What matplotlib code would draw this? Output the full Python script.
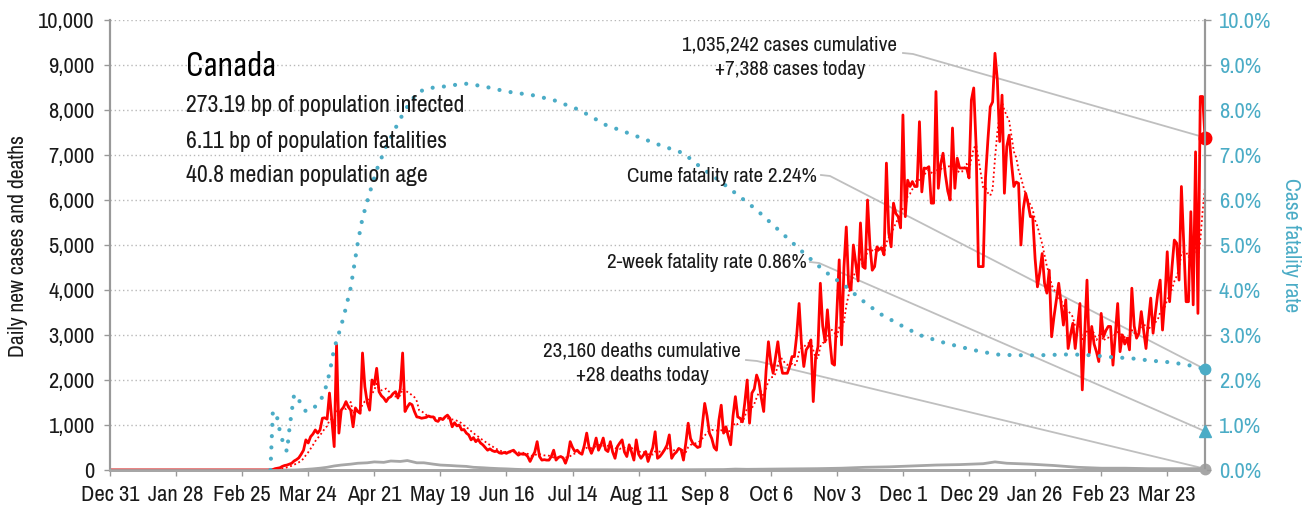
import matplotlib
matplotlib.use('Agg')
import matplotlib.pyplot as plt
import matplotlib.dates as mdates
import numpy as np
import pandas as pd
from matplotlib import font_manager as fm
from matplotlib.lines import Line2D

# ---------------- data ----------------
start = pd.Timestamp('2019-12-31')

daily_cases = [0] * 60 + [
    0, 0, 0, 0, 0, 0, 0, 0, 5, 10,
    30, 40, 50, 80, 100, 110, 130, 150, 200, 230,
    270, 350, 440, 670, 600, 740, 800, 890, 820, 890,
    1150, 1160, 1130, 1710, 1110, 520, 2780, 820, 1330, 1400,
    1520, 1400, 1330, 960, 1380, 1300, 1260, 2600, 1850, 1500,
    1330, 2000, 1900, 2260, 1740, 1650, 1600, 1520, 1600, 1630,
    1700, 1740, 1600, 1800, 2600, 1300, 1400, 1480, 1450, 1300,
    1180, 1170, 1150, 1160, 1170, 1200, 1180, 1180, 1100, 1080,
    1150, 1120, 1180, 1220, 1150, 960, 1050, 980, 1000, 890,
    900, 820, 780, 670, 720, 630, 680, 600, 560, 500,
    440, 470, 430, 410, 420, 380, 370, 390, 370, 400,
    420, 440, 380, 330, 360, 350, 350, 300, 190, 300,
    400, 630, 300, 220, 230, 220, 220, 300, 440, 220,
    280, 300, 270, 150, 300, 630, 500, 410, 440, 380,
    350, 550, 820, 500, 370, 500, 710, 440, 550, 710,
    450, 410, 630, 400, 260, 520, 600, 670, 400, 300,
    560, 400, 220, 670, 350, 260, 330, 410, 190, 350,
    500, 850, 260, 300, 370, 450, 550, 780, 260, 350,
    400, 480, 450, 220, 600, 1040, 700, 590, 550, 500,
    520, 1000, 1480, 1200, 820, 700, 500, 440, 1100, 1440,
    820, 960, 750, 560, 1200, 1630, 1180, 1150, 1070, 1500,
    2000, 1040, 1710, 1800, 2110, 1960, 1600, 1300, 2200, 2850,
    2400, 2150, 2500, 2850, 2400, 2150, 2150, 2150, 2300, 2520,
    2520, 3000, 3700, 2800, 2300, 2670, 2750, 2890, 1520, 2500,
    2740, 4150, 3200, 2850, 3560, 2900, 2370, 2330, 3500, 4670,
    2780, 4500, 5400, 4100, 4000, 5000, 4600, 4200, 5490, 4520,
    4480, 6000, 5000, 4440, 4520, 4960, 4900, 4930, 4780, 6820,
    5270, 4960, 5930, 5700, 5630, 5380, 7890, 5630, 6440, 6300,
    6410, 6300, 6300, 7740, 6180, 6710, 6700, 6740, 5930, 5930,
    8410, 6260, 6800, 7040, 6560, 6200, 6000, 7600, 6260, 6930,
    6710, 6710, 6710, 6710, 6490, 8220, 8490, 7220, 4520, 4520,
    4520, 6500, 7330, 8070, 8180, 9260, 8670, 7300, 8330, 6150,
    7190, 7440, 6820, 6300, 6400, 6370, 5000, 5800, 6150, 5930,
    5630, 5630, 4700, 4070, 4400, 4810, 4150, 3930, 4440, 2960,
    3400, 3780, 4150, 3700, 3220, 3780, 2700, 3000, 3260, 2700,
    3200, 3700, 1780, 3000, 4220, 2600, 3190, 2800, 2630, 2410,
    3480, 2960, 3100, 3190, 3190, 2330, 3000, 3700, 2630, 3000,
    2800, 2930, 2670, 4040, 3200, 2930, 3040, 3520, 3100, 2700,
    3300, 3820, 3040, 3500, 3930, 4220, 3110, 3800, 4850, 3740,
    4500, 5110, 5040, 4220, 6300, 5000, 3740, 3740, 5740, 3670,
    7070, 3480, 8300, 8300, 7388,
]

# cumulative case fatality rate (%), read at these day offsets from Dec 31 2019
cfr_days = [68, 69, 70, 71, 72, 73, 74, 75, 76, 77, 78, 79, 80, 81, 83, 85, 87, 89,
            91, 93, 95, 97, 99, 102, 105, 107, 110, 113, 117, 121, 125, 130, 134,
            143, 150, 158, 168, 179, 188, 199, 210, 222, 233, 243, 250, 258, 267,
            274, 284, 294, 303, 312, 318, 326, 335, 343, 352, 360, 369, 377, 386,
            394, 407, 416, 424, 433, 441, 450, 458, 464]
cfr_pct = [0.0, 1.30, 1.15, 1.15, 0.85, 0.67, 0.52, 0.41, 0.90, 1.30, 1.67, 1.55,
           1.55, 1.48, 1.30, 1.37, 1.41, 1.52, 1.75, 2.15, 2.70, 3.04, 3.40, 4.05,
           5.05, 5.60, 6.15, 6.67, 7.19, 7.60, 8.00, 8.37, 8.48, 8.53, 8.59, 8.53,
           8.41, 8.33, 8.22, 8.00, 7.67, 7.44, 7.22, 7.04, 6.74, 6.44, 6.07, 5.78,
           5.30, 4.82, 4.41, 4.07, 3.80, 3.48, 3.22, 3.00, 2.85, 2.74, 2.63, 2.56,
           2.55, 2.55, 2.57, 2.55, 2.51, 2.48, 2.43, 2.39, 2.32, 2.24]

# daily deaths, read at these day offsets
death_days = [0, 78, 82, 86, 89, 92, 95, 98, 102, 105, 109, 112, 116, 119, 123,
              126, 130, 133, 137, 140, 144, 147, 151, 154, 158, 161, 165, 168, 172,
              175, 180, 190, 200, 210, 220, 230, 240, 250, 260, 265, 270, 280, 290,
              300, 310, 320, 330, 340, 350, 360, 370, 375, 380, 390, 400, 410, 420,
              430, 440, 450, 460, 464]
daily_deaths = [0, 0, 10, 25, 40, 60, 90, 110, 130, 150, 160, 180, 170, 200, 190,
                210, 160, 160, 130, 110, 100, 90, 80, 60, 50, 40, 30, 25, 15, 10, 8,
                5, 5, 5, 3, 5, 5, 8, 10, 20, 15, 20, 25, 30, 40, 60, 70, 90, 110,
                120, 140, 180, 150, 130, 100, 60, 40, 40, 30, 30, 30, 28]

tick_labels = ['Dec 31', 'Jan 28', 'Feb 25', 'Mar 24', 'Apr 21', 'May 19', 'Jun 16',
               'Jul 14', 'Aug 11', 'Sep 8', 'Oct 6', 'Nov 3', 'Dec 1', 'Dec 29',
               'Jan 26', 'Feb 23', 'Mar 23']

title = 'Canada'
stats = ['273.19 bp of population infected',
         '6.11 bp of population fatalities',
         '40.8 median population age']
cases_note = '1,035,242 cases cumulative\n+7,388 cases today'
deaths_note = '23,160 deaths cumulative\n+28 deaths today'
cfr_note = 'Cume fatality rate 2.24%'
twoweek_note = '2-week fatality rate 0.86%'
last_cfr = 2.24
last_2wk = 0.86
last_deaths = 28

# ---------------- fonts ----------------
names = {f.name for f in fm.fontManager.ttflist}
FONT = 'Archivo Narrow' if 'Archivo Narrow' in names else 'DejaVu Sans'
TITLE_FONT = 'Sofia Sans Condensed' if 'Sofia Sans Condensed' in names else FONT
plt.rcParams['font.family'] = [FONT, 'DejaVu Sans']

RED = '#ff0000'
TEAL = '#4bacc6'
GRID = '#b8b8b8'
AXC = '#999999'
ANN = '#bfbfbf'
TXT = '#1a1a1a'

W, H = 1310, 512
fig = plt.figure(figsize=(W / 100, H / 100), dpi=100)
renderer = fig.canvas.get_renderer()


def fit(s, target_px, **kw):
    """font size (pt) that gives the string the wanted width in pixels"""
    t = fig.text(0, 0, s, fontsize=10, **kw)
    w = t.get_window_extent(renderer).width
    t.remove()
    return 10 * target_px / w


FS_TICK = fit('10,000', 56)
FS_NOTE = fit('1,035,242 cases cumulative', 215)
FS_STAT = fit('273.19 bp of population infected', 279)
FS_TITLE = fit('Canada', 89, family=TITLE_FONT)
FS_LAB = fit('Case fatality rate', 136)

L, R, T, B = 110, 1205, 20, 470
ax = fig.add_axes([L / W, 1 - B / H, (R - L) / W, (B - T) / H])
ax2 = ax.twinx()

dates = pd.date_range(start, periods=len(daily_cases), freq='D')
cases = pd.Series(daily_cases, index=dates)
avg7 = cases.rolling(7, min_periods=1).mean()
cfr_dates = start + pd.to_timedelta(cfr_days, unit='D')
death_dates = start + pd.to_timedelta(death_days, unit='D')

ax.set_xlim(dates[0], dates[-1])
ax.set_ylim(0, 10000)
ax2.set_ylim(0, 10)

for v in range(1000, 10001, 1000):
    ax.axhline(v, color=GRID, lw=1.0, ls=(0, (1, 2)), zorder=0)

ax.plot(death_dates, daily_deaths, color='#a6a6a6', lw=2, zorder=2)
ax.plot(dates, avg7.values, color=RED, lw=1.3, ls=(0, (1, 1.5)), zorder=3)
ax.plot(dates, cases.values, color=RED, lw=2, zorder=4)
ax.plot([dates[-1]], [daily_cases[-1]], 'o', color=RED, ms=9, clip_on=False, zorder=6)
ax.plot([dates[-1]], [last_deaths], 'o', color='#a6a6a6', ms=7.5, clip_on=False, zorder=6)

ax2.plot(cfr_dates, cfr_pct, color=TEAL, lw=3, ls=(0, (0.01, 2.7)),
         dash_capstyle='round', zorder=5)
ax2.plot([dates[-1]], [last_cfr], 'o', color=TEAL, ms=7.5, clip_on=False, zorder=6)
ax2.plot([dates[-1]], [last_2wk], '^', color=TEAL, ms=9, clip_on=False, zorder=6)

tick_pos = [start + pd.Timedelta(days=28 * k) for k in range(len(tick_labels))]
ax.set_xticks(tick_pos)
ax.set_xticklabels(tick_labels)
ax.set_yticks(range(0, 10001, 1000))
ax.set_yticklabels([f'{v:,}' for v in range(0, 10001, 1000)])
ax2.set_yticks(range(0, 11))
ax2.set_yticklabels([f'{v:.1f}%' for v in range(0, 11)])

ax.tick_params(axis='x', length=4, width=1, color=AXC, pad=7, labelsize=FS_TICK, labelcolor=TXT)
ax.tick_params(axis='y', length=4, width=1, color=AXC, pad=7, labelsize=FS_TICK, labelcolor=TXT)
ax2.tick_params(axis='y', length=4, width=1, color=AXC, pad=6, labelsize=FS_TICK, labelcolor=TEAL)

for a in (ax, ax2):
    a.spines['top'].set_visible(False)
    a.spines['left'].set_color(AXC)
    a.spines['right'].set_color(AXC)
    a.spines['bottom'].set_color('#a6a6a6')
    a.spines['left'].set_linewidth(1.5)
    a.spines['right'].set_linewidth(1.5)
    a.spines['bottom'].set_linewidth(2)
ax.set_zorder(1)
ax2.set_zorder(2)
ax.patch.set_visible(False)
ax2.patch.set_visible(False)

fig.text(18 / W, 1 - 246 / H, 'Daily new cases and deaths', rotation=90,
         ha='center', va='center', fontsize=FS_LAB, color=TXT)
fig.text(1291 / W, 1 - 245 / H, 'Case fatality rate', rotation=270,
         ha='center', va='center', fontsize=FS_LAB, color=TEAL)

fig.text(186 / W, 1 - 67 / H, title, ha='left', va='center', fontsize=FS_TITLE,
         color='#000000', family=[TITLE_FONT, 'DejaVu Sans'])
for i, s in enumerate(stats):
    fig.text(186 / W, 1 - (106 + 35 * i) / H, s, ha='left', va='center',
             fontsize=FS_STAT, color=TXT)

fig.text(790 / W, 1 - 57 / H, cases_note, ha='center', va='center', fontsize=FS_NOTE,
         color=TXT, linespacing=1.35)
fig.text(642 / W, 1 - 363 / H, deaths_note, ha='center', va='center', fontsize=FS_NOTE,
         color=TXT, linespacing=1.35)
fig.text(817 / W, 1 - 177 / H, cfr_note, ha='right', va='center', fontsize=FS_NOTE, color=TXT)
fig.text(807 / W, 1 - 263 / H, twoweek_note, ha='right', va='center', fontsize=FS_NOTE, color=TXT)


def px(x, y):
    return (x / W, 1 - y / H)


def leader(p0, p1, target_axes, target_xy):
    tx, ty = target_axes.transData.transform((mdates.date2num(target_xy[0]), target_xy[1]))
    fx, fy = fig.transFigure.inverted().transform((tx, ty))
    xs = [px(*p0)[0], px(*p1)[0], fx]
    ys = [px(*p0)[1], px(*p1)[1], fy]
    fig.add_artist(Line2D(xs, ys, transform=fig.transFigure, color=ANN, lw=1.3, zorder=1))


leader((903, 53), (913, 54), ax, (dates[-1], daily_cases[-1]))
leader((821, 175), (830, 176), ax2, (dates[-1], last_cfr))
leader((810, 262), (819, 263), ax2, (dates[-1], last_2wk))
leader((746, 360), (757, 361), ax, (dates[-1], last_deaths))

fig.savefig('out.png', dpi=100)
